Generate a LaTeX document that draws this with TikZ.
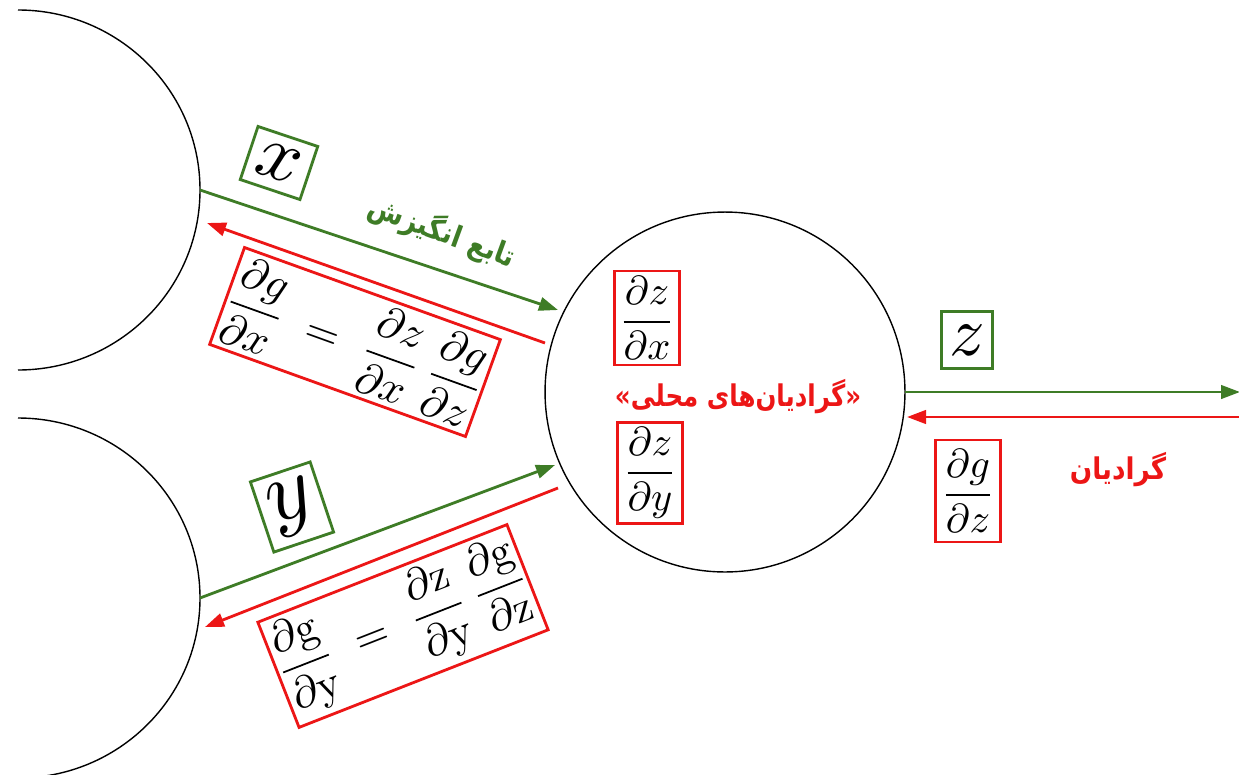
\documentclass[tikz,border=0pt]{standalone}
\usepackage{graphicx}
\usepackage{amsmath}
\usepackage{fontspec}
\usetikzlibrary{arrows.meta}
\TeXXeTstate=1
\newfontfamily\arabicfont[Script=Arabic]{DejaVu Sans}
\definecolor{actgreen}{RGB}{62,124,38}
\definecolor{gradred}{RGB}{236,22,22}

\tikzset{
  fwd/.style={actgreen, line width=1.6pt, -{Triangle[length=0.38cm,width=0.27cm]}},
  bwd/.style={gradred, line width=1.6pt, -{Triangle[length=0.38cm,width=0.27cm]}},
  neuron/.style={black, line width=0.8pt},
  varbox/.style={draw=actgreen, line width=1.6pt, inner sep=0pt, fill=white},
  gradbox/.style={draw=gradred, line width=1.6pt, inner sep=0pt, fill=white},
  fatext/.style={font=\arabicfont\bfseries\fontsize{17}{20}\selectfont, inner sep=0pt}
}

\begin{document}
\begin{tikzpicture}[x=0.02cm, y=-0.02cm]
  \useasboundingbox (0,0) rectangle (1239,774);
  \clip (0,0) rectangle (1239,774);

  % input neurons (half ellipses at the left border)
  \draw[neuron] (18,10) arc[start angle=-90, end angle=90, x radius=182, y radius=180];
  \draw[neuron] (18,418) arc[start angle=-90, end angle=90, x radius=182, y radius=180];
  \coordinate (xout) at (200,190);
  \coordinate (yout) at (200,598);

  % central neuron
  \node[neuron, draw, circle, minimum size=7.2cm, inner sep=0pt] (mid) at (725,392) {};

  % arrow end points
  \coordinate (xin)  at (558,310);
  \coordinate (xgs)  at (545,343);
  \coordinate (xge)  at (207,223);
  \coordinate (yin)  at (555,465);
  \coordinate (ygs)  at (558,488);
  \coordinate (yge)  at (205,627);
  \coordinate (zout) at (905,392);
  \coordinate (zend) at (1240,392);
  \coordinate (zgs)  at (1239,417);
  \coordinate (zge)  at (907,417);

  % forward and backward passes
  \draw[fwd] (xout) -- (xin);
  \draw[bwd] (xgs) -- (xge);
  \draw[fwd] (yout) -- (yin);
  \draw[bwd] (ygs) -- (yge);
  \draw[fwd] (zout) -- (zend);
  \draw[bwd] (zgs) -- (zge);

  % variables
  \node[varbox, rotate=-18.5, minimum width=1.26cm, minimum height=1.12cm] (xvar) at (279,163)
    {\scalebox{4.4}{$x$}};
  \node[varbox, rotate=18.5, minimum width=1.26cm, minimum height=1.48cm] (yvar) at (292,507)
    {\scalebox{5}{$y$}};
  \node[varbox, minimum width=1.02cm, minimum height=1.14cm] (zvar) at (967,340)
    {\scalebox{4}{$z$}};

  % chain rule boxes
  \node[gradbox, rotate=-19.8, minimum width=5.32cm, minimum height=2.06cm] (eqx) at (355,342)
    {\scalebox{2.5}{$\dfrac{\partial g}{\partial x}\;=\;\dfrac{\partial z}{\partial x}\,\dfrac{\partial g}{\partial z}$}};
  \node[gradbox, rotate=21.4, minimum width=5.3cm, minimum height=2.26cm] (eqy) at (403,626)
    {\scalebox{2.5}{$\dfrac{\partial \mathrm{g}}{\partial \mathrm{y}}\;=\;\dfrac{\partial \mathrm{z}}{\partial \mathrm{y}}\,\dfrac{\partial \mathrm{g}}{\partial \mathrm{z}}$}};

  % local gradients
  \node[gradbox, minimum width=1.3cm, minimum height=1.88cm] (dzdx) at (647,318)
    {\scalebox{2.3}{$\dfrac{\partial z}{\partial x}$}};
  \node[gradbox, minimum width=1.3cm, minimum height=2.02cm] (dzdy) at (650,473)
    {\scalebox{2.3}{$\dfrac{\partial z}{\partial y}$}};
  \node[gradbox, minimum width=1.3cm, minimum height=2.04cm] (dgdz) at (968,491)
    {\scalebox{2.3}{$\dfrac{\partial g}{\partial z}$}};

  % labels
  \node[fatext, text=actgreen, rotate=-20] (act) at (442,232)
    {\scalebox{0.88}[1]{\beginR تابع انگیزش\endR}};
  \node[fatext, text=gradred] (local) at (738,397)
    {\scalebox{0.82}[1]{\beginR «گرادیان‌های محلی»\endR}};
  \node[fatext, text=gradred] (grad) at (1118,470)
    {\scalebox{0.88}[1]{\beginR گرادیان\endR}};
\end{tikzpicture}
\end{document}
